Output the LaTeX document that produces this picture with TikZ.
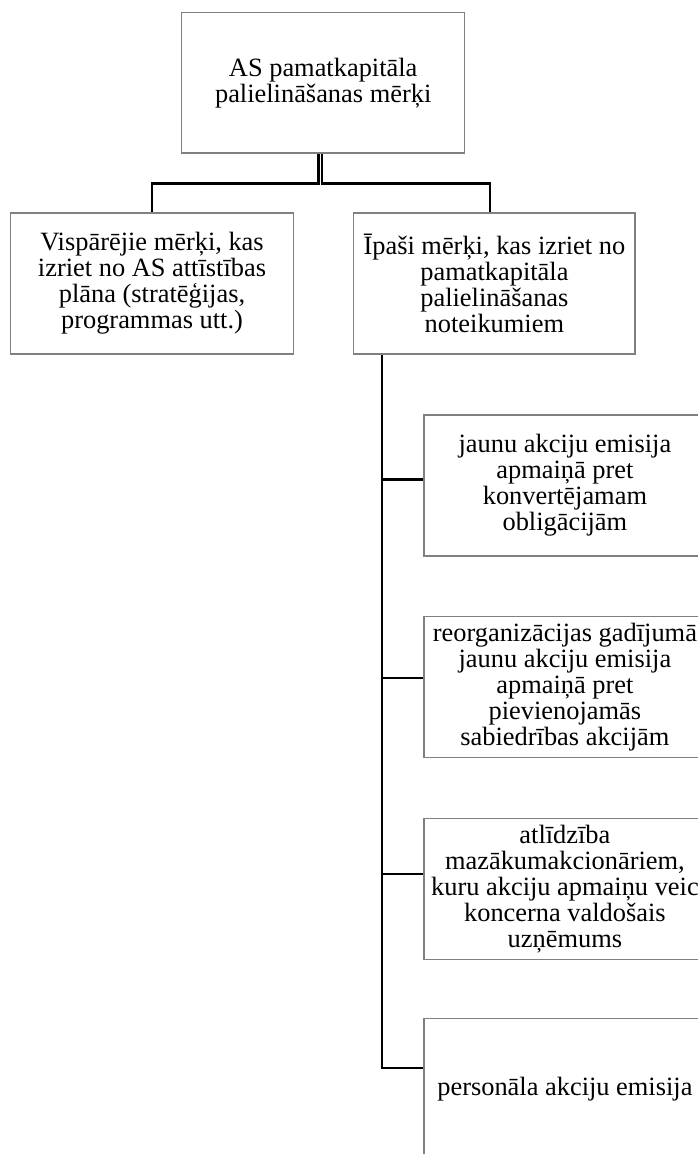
\documentclass[tikz,border=0pt]{standalone}
\usepackage{fontspec}
\setmainfont{Liberation Serif}
\definecolor{boxgray}{RGB}{128,128,128}
\begin{document}
\begin{tikzpicture}[x=1pt,y=-1pt,
  box/.style={draw=boxgray, line width=1.2pt, fill=white, align=center,
    inner sep=0pt, font=\fontsize{26.4}{26}\selectfont},
  conn/.style={draw=black, line width=2.6pt, line join=miter},
]
\useasboundingbox (0,0) rectangle (698,1154);
\clip (0,0) rectangle (698,1154);

% top level goal
\node[box, minimum width=283pt, minimum height=140.3pt] (top) at (323.2,82.9)
  {AS pamatkapitāla\\palielināšanas mērķi};

% second level
\node[box, minimum width=282.6pt, minimum height=141pt] (gen) at (152,283.5)
  {Vispārējie mērķi, kas\\izriet no AS attīstības\\plāna (stratēģijas,\\programmas utt.)};
\node[box, minimum width=281.3pt, minimum height=141pt] (spec) at (494.4,283.5)
  {Īpaši mērķi, kas izriet no\\pamatkapitāla\\palielināšanas\\noteikumiem};

% specific cases
\tikzset{sub/.style={box, anchor=north west, minimum width=282pt, minimum height=141pt}}
\node[sub] (s1) at (423.3,414.3)
  {jaunu akciju emisija\\apmaiņā pret\\konvertējamam\\obligācijām};
\node[sub] (s2) at (423.3,615.7)
  {reorganizācijas gadījumā\\jaunu akciju emisija\\apmaiņā pret\\pievienojamās\\sabiedrības akcijām};
\node[sub] (s3) at (423.3,817.7)
  {atlīdzība\\mazākumakcionāriem,\\kuru akciju apmaiņu veic\\koncerna valdošais\\uzņēmums};
\node[sub] (s4) at (423.3,1017.7)
  {personāla akciju emisija};

% tree connectors from the top box
\draw[conn] ([xshift=-4.7pt]top.south) -- ++(0,30) -| (gen.north);
\draw[conn] ([xshift=-1.2pt]top.south) -- ++(0,30) -| ([xshift=-4.4pt]spec.north);

% spine with branches to the specific cases
\coordinate (sp) at ([xshift=-112.4pt]spec.south);
\coordinate (b1) at ([yshift=5.7pt]s1.west);
\coordinate (b2) at ([yshift=9pt]s2.west);
\coordinate (b3) at ([yshift=15pt]s3.west);
\coordinate (b4) at ([yshift=20.7pt]s4.west);
\draw[conn] (sp) |- (b4);
\draw[conn] (sp |- b1) -- (b1);
\draw[conn] (sp |- b2) -- (b2);
\draw[conn] (sp |- b3) -- (b3);
\end{tikzpicture}
\end{document}
